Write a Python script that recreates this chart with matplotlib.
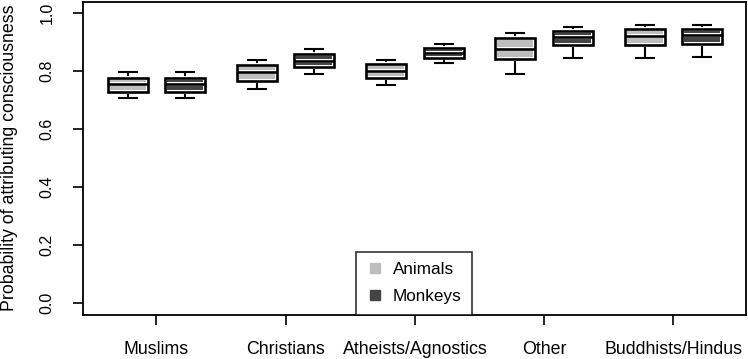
import matplotlib
matplotlib.use("Agg")
import matplotlib.pyplot as plt
import numpy as np
from matplotlib import font_manager
from matplotlib.lines import Line2D

# ---------------- data ----------------
categories = ["Muslims", "Christians", "Atheists/Agnostics", "Other", "Buddhists/Hindus"]
series = ["Animals", "Monkeys"]
# five-number summaries per group
animals_lo  = [0.706, 0.737, 0.752, 0.791, 0.847]
animals_q1  = [0.729, 0.768, 0.776, 0.841, 0.889]
animals_med = [0.755, 0.797, 0.800, 0.877, 0.923]
animals_q3  = [0.776, 0.820, 0.824, 0.916, 0.947]
animals_hi  = [0.796, 0.839, 0.839, 0.931, 0.960]

monkeys_lo  = [0.706, 0.789, 0.827, 0.847, 0.850]
monkeys_q1  = [0.729, 0.815, 0.846, 0.890, 0.894]
monkeys_med = [0.755, 0.837, 0.864, 0.919, 0.924]
monkeys_q3  = [0.776, 0.858, 0.881, 0.940, 0.947]
monkeys_hi  = [0.796, 0.877, 0.894, 0.954, 0.960]

yticks = [0.0, 0.2, 0.4, 0.6, 0.8, 1.0]
ytick_labels = ["0.0", "0.2", "0.4", "0.6", "0.8", "1.0"]
ylabel = "Probability of attributing consciousness"

colors = {"Animals": "#bdbdbd", "Monkeys": "#444444"}

# ---------------- fonts ----------------
avail = {f.name for f in font_manager.fontManager.ttflist}
base_font = "Liberation Sans" if "Liberation Sans" in avail else "DejaVu Sans"
plt.rcParams["font.family"] = [base_font, "DejaVu Sans"]

# ---------------- layout ----------------
fig = plt.figure(figsize=(7.48, 3.59), dpi=100)
ax = fig.add_axes([0.1106, 0.1235, 0.9969 - 0.1106, 0.9953 - 0.1235])

group_step = 2.25
pair_gap = 1.0
box_w = 0.70
cap_w = box_w / 2
lw = 1.9
white_lw = 2.9
whisk_lw = 1.5

base = 1 + np.arange(len(categories)) * group_step
group_centers = base + pair_gap / 2

summaries = {
    "Animals": (animals_lo, animals_q1, animals_med, animals_q3, animals_hi),
    "Monkeys": (monkeys_lo, monkeys_q1, monkeys_med, monkeys_q3, monkeys_hi),
}

for j, name in enumerate(series):
    lo, q1, med, q3, hi = (np.asarray(a) for a in summaries[name])
    x = base + j * pair_gap
    # whiskers and caps
    ax.vlines(x, q3, hi, colors="black", linewidth=whisk_lw, zorder=1)
    ax.vlines(x, lo, q1, colors="black", linewidth=whisk_lw, zorder=1)
    ax.hlines(hi, x - cap_w / 2, x + cap_w / 2, colors="black", linewidth=whisk_lw, zorder=1)
    ax.hlines(lo, x - cap_w / 2, x + cap_w / 2, colors="black", linewidth=whisk_lw, zorder=1)
    # box fill with a thin white inner rim
    ax.bar(x, q3 - q1, bottom=q1, width=box_w, color=colors[name],
           edgecolor="white", linewidth=white_lw, zorder=2)
    # median with white halo
    ax.hlines(med, x - box_w / 2, x + box_w / 2, colors="white", linewidth=white_lw, zorder=2.5)
    ax.hlines(med, x - box_w / 2, x + box_w / 2, colors="black", linewidth=lw, zorder=3)
    # black outline
    ax.bar(x, q3 - q1, bottom=q1, width=box_w, color="none",
           edgecolor="black", linewidth=lw, zorder=4)

ax.set_xlim(0.216, 11.76)
ax.set_ylim(-0.04, 1.04)

ax.set_xticks(group_centers)
ax.set_xticklabels(categories, fontsize=12.8)
ax.tick_params(axis="x", length=7.2, width=1.2, pad=11.5, colors="black")

ax.set_yticks(yticks)
ax.set_yticklabels(ytick_labels, fontsize=11.5, rotation=90, va="center")
ax.tick_params(axis="y", length=7.2, width=1.2, pad=13)
ax.set_ylabel(ylabel, fontsize=12.8)
ax.yaxis.set_label_coords(-0.098, 0.5)

for s in ax.spines.values():
    s.set_linewidth(1.3)
    s.set_color("black")

handles = [Line2D([], [], linestyle="none", marker="s", markersize=7,
                  markerfacecolor=colors[s], markeredgecolor=colors[s]) for s in series]
leg = ax.legend(handles, series, loc="lower center", bbox_to_anchor=(0.5, 0.0),
                borderaxespad=0, fontsize=12.3, frameon=True, fancybox=False,
                handlelength=1.0, handletextpad=0.55, labelspacing=0.7,
                borderpad=0.6)
leg.get_frame().set_edgecolor("black")
leg.get_frame().set_linewidth(1.2)

fig.savefig("out.png", dpi=100)
